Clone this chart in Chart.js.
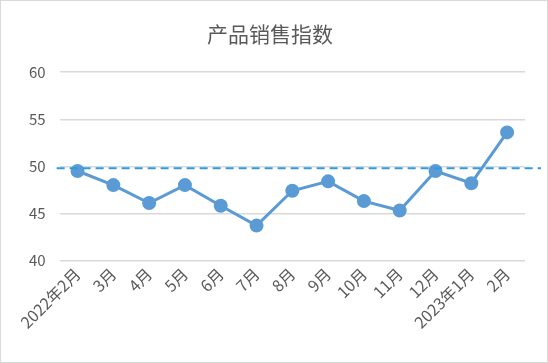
<!DOCTYPE html>
<html><head><meta charset="utf-8">
<script src="https://cdn.jsdelivr.net/npm/chart.js@4/dist/chart.umd.min.js"></script>
<style>
html,body{margin:0;padding:0;background:#fff;}
#wrap{position:absolute;left:0;top:0;width:546px;height:361px;border:1px solid #d9d9d9;}
</style></head>
<body><div id="wrap"><canvas id="c" width="546" height="361"></canvas></div>
<script>
const categories = ["2022年2月","3月","4月","5月","6月","7月","8月","9月","10月","11月","12月","2023年1月","2月"];
const salesIndex = [49.5,48.0,46.1,48.0,45.8,43.7,47.4,48.4,46.3,45.3,49.5,48.2,53.6];
const referenceLevel = 49.8;
const yTicks = [40,45,50,55,60];

const refLine = {
  id:'refLine',
  afterDatasetsDraw(chart){
    const {ctx, chartArea, scales:{y}} = chart;
    const py = y.getPixelForValue(referenceLevel);
    ctx.save();
    ctx.strokeStyle = '#2F9BE0';
    ctx.lineWidth = 2;
    ctx.setLineDash([8,5]);
    ctx.beginPath();
    ctx.moveTo(chartArea.left-3, py);
    ctx.lineTo(chart.width-6, py);
    ctx.stroke();
    ctx.restore();
  }
};

new Chart(document.getElementById('c'), {
  type:'line',
  data:{labels:categories, datasets:[{
    data:salesIndex,
    borderColor:'#5B9BD5', backgroundColor:'#5B9BD5',
    borderWidth:3, pointRadius:5.5, pointHoverRadius:5.5,
    pointBackgroundColor:'#5B9BD5', pointBorderColor:'#5B9BD5', tension:0
  }]},
  options:{
    responsive:false, animation:false, devicePixelRatio:1,
    layout:{padding:{left:14,right:22,top:0,bottom:26}},
    plugins:{
      legend:{display:false}, tooltip:{enabled:false},
      title:{display:true, text:'产品销售指数', color:'#595959',
        font:{family:'"Noto Sans CJK SC"', size:21, weight:'normal'},
        padding:{top:20,bottom:26}}
    },
    scales:{
      x:{offset:true,
        grid:{display:false, drawTicks:false},
        border:{display:false},
        ticks:{color:'#595959', font:{family:'"Noto Sans CJK SC"', size:16},
          maxRotation:45, minRotation:45, autoSkip:false, padding:4}
      },
      y:{min:40,max:60,
        afterBuildTicks(s){s.ticks = yTicks.map(v=>({value:v}));},
        grid:{color:'#d9d9d9', lineWidth:1.5, drawTicks:false},
        border:{display:false},
        ticks:{color:'#595959', font:{family:'"Noto Sans CJK SC"', size:15}, padding:14}
      }
    }
  },
  plugins:[refLine]
});
</script></body></html>
